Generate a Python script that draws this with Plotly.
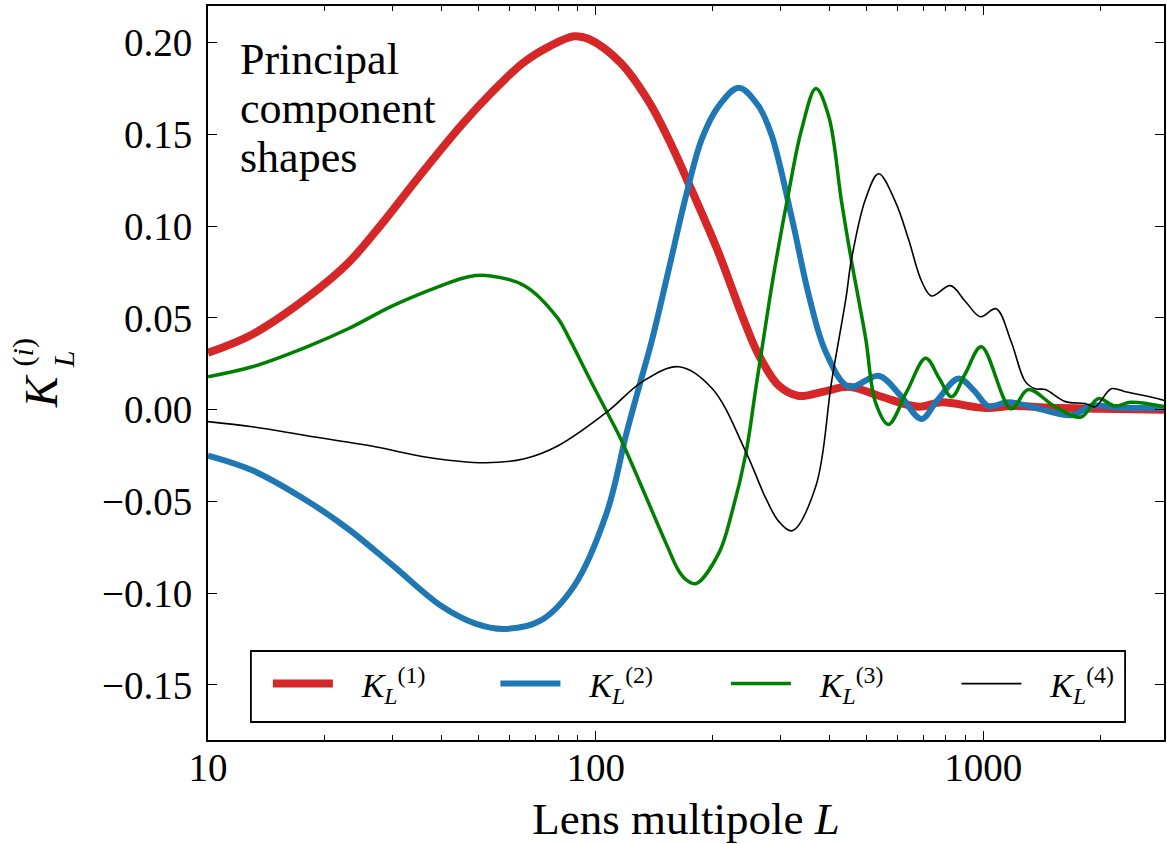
import plotly.graph_objects as go

# ---------------- data ----------------
L1 = [10, 13, 18, 23, 28, 35, 45, 54, 65, 76, 88, 96, 116, 137, 157, 174, 192, 208, 244,
      264, 297, 334, 390, 450, 537, 680, 780, 1000, 1200, 1500, 2000, 2940]
K1 = [0.031, 0.041, 0.061, 0.080, 0.101, 0.127, 0.155, 0.173, 0.189, 0.198, 0.2035, 0.202,
      0.189, 0.168, 0.144, 0.123, 0.1025, 0.085, 0.046, 0.0294, 0.013, 0.0075, 0.010,
      0.0125, 0.0076, 0.0016, 0.004, 0.001, 0.002, 0.001, 0.0005, 0.0]

L2 = [10, 13, 18, 23, 30, 40, 49, 58, 72, 88, 107, 120, 129, 140, 154.5, 171, 188, 208,
      234, 262, 284, 321, 355, 392, 450, 537, 610, 692, 760, 863, 950, 1030, 1160, 1330,
      1690, 1900, 2300, 2940]
K2 = [-0.025, -0.033, -0.0496, -0.065, -0.085, -0.107, -0.1166, -0.1195, -0.115, -0.096,
      -0.0556, -0.013, 0.0114, 0.0387, 0.0768, 0.1166, 0.1477, 0.1657, 0.1755, 0.166, 0.150,
      0.104, 0.062, 0.0316, 0.0125, 0.0185, 0.008, -0.005, 0.005, 0.017, 0.010, 0.002,
      0.004, 0.0016, -0.003, 0.002, 0.001, 0.001]

L3 = [10, 13, 18, 23, 30, 40, 47, 53, 65.5, 80, 85.5, 98, 108, 116, 129, 152, 164, 172,
      181.5, 208, 224.6, 244, 259, 271.6, 288, 315, 340, 370, 399, 431, 457, 497, 527, 569,
      635, 710, 770, 828, 900, 988, 1180, 1306, 1531, 1787, 1977, 2188, 2400, 2940]
K3 = [0.018, 0.0234, 0.0343, 0.0441, 0.0567, 0.0676, 0.0725, 0.073, 0.0676, 0.0496, 0.0387,
      0.014, -0.003, -0.0158, -0.038, -0.073, -0.088, -0.093, -0.0948, -0.078, -0.056,
      -0.024, 0.012, 0.040, 0.074, 0.119, 0.153, 0.175, 0.160, 0.113, 0.081, 0.039, 0.004,
      -0.008, 0.010, 0.028, 0.017, 0.007, 0.020, 0.0343, 0.0005, 0.011, 0.0016, -0.004,
      0.006, 0.002, 0.004, 0.0016]

L4 = [10, 13, 18, 27, 36, 52, 65.5, 80, 108, 132, 164, 200, 244, 275, 297, 321, 370,
      406, 442, 457, 497, 537, 594, 641, 693, 735, 822, 899, 982, 1079, 1180, 1283, 1360,
      1445, 1627, 1832, 1943, 2138, 2323, 2612, 2940]
K4 = [-0.0065, -0.0093, -0.0142, -0.0202, -0.0256, -0.0289, -0.0267, -0.0196,
      -0.0005, 0.0153, 0.0234, 0.0114, -0.023, -0.0485, -0.061, -0.066, -0.0414, 0.0153,
      0.0605, 0.082, 0.115, 0.1286, 0.113, 0.093, 0.070, 0.062, 0.0676, 0.059, 0.0507,
      0.055, 0.037, 0.0153, 0.0114, 0.011, 0.0044, 0.0033, 0.0016, 0.0114, 0.0098, 0.0076,
      0.005]

series_names = ["<i>K</i><sub><i>L</i></sub><sup>(1)</sup>",
                "<i>K</i><sub><i>L</i></sub><sup>(2)</sup>",
                "<i>K</i><sub><i>L</i></sub><sup>(3)</sup>",
                "<i>K</i><sub><i>L</i></sub><sup>(4)</sup>"]
series_colors = ["#d62728", "#1f77b4", "#008000", "#000000"]
series_widths = [8, 6, 3.5, 1.6]

x_tickvals = [10, 100, 1000]
x_ticktext = ["10", "100", "1000"]
x_minor = [20, 30, 40, 50, 60, 70, 80, 90, 200, 300, 400, 500, 600, 700, 800, 900, 2000, 3000]
y_tickvals = [-0.15, -0.10, -0.05, 0.00, 0.05, 0.10, 0.15, 0.20]
y_ticktext = ["\u22120.15", "\u22120.10", "\u22120.05", "0.00", "0.05", "0.10", "0.15", "0.20"]

FONT = "Liberation Serif"


def px2paper(px, py):
    return (px - 208) / 958.0, (740 - py) / 734.0


fig = go.Figure()
legend_ids = ["legend", "legend2", "legend3", "legend4"]
for Lx, Ky, nm, col, w, lg in zip([L1, L2, L3, L4], [K1, K2, K3, K4], series_names,
                                  series_colors, series_widths, legend_ids):
    fig.add_trace(go.Scatter(x=Lx, y=Ky, mode="lines", name="\u2002\u2009" + nm, legend=lg,
                             line=dict(color=col, width=w, shape="spline", smoothing=1.0)))

axis_common = dict(showline=True, linecolor="black", linewidth=1.8, mirror="allticks",
                   ticks="inside", tickcolor="black", tickwidth=1.2, showgrid=False,
                   zeroline=False, tickfont=dict(family=FONT, size=39, color="black"))

fig.update_xaxes(type="log", range=[1, 3.466], tickvals=x_tickvals, ticktext=x_ticktext,
                 ticklen=9, ticklabelstandoff=-8,
                 minor=dict(tickvals=x_minor, ticks="inside", ticklen=5, tickcolor="black",
                            tickwidth=1.0, showgrid=False),
                 title=dict(text="Lens multipole <i>L</i>", standoff=20,
                            font=dict(family=FONT, size=45, color="black")),
                 **axis_common)
fig.update_yaxes(range=[-0.18, 0.22], tickvals=y_tickvals, ticktext=y_ticktext,
                 ticklen=9, ticklabelstandoff=6, **axis_common)

# y-axis label built from pieces so sub/superscript stack
for txt, (px, py), sz in [("<i>K</i>", (41, 391), 46),
                          ("(<i>i</i>)", (23, 352), 30),
                          ("<i>L</i>", (63, 359), 30)]:
    xp, yp = px2paper(px, py)
    fig.add_annotation(text=txt, xref="paper", yref="paper", x=xp, y=yp, showarrow=False,
                       textangle=-90, xanchor="center", yanchor="middle",
                       font=dict(family=FONT, size=sz, color="black"))

# text block
for txt, py in [("Principal", 59), ("component", 108), ("shapes", 157)]:
    xp, yp = px2paper(238, py)
    fig.add_annotation(text=txt, xref="paper", yref="paper", x=xp, y=yp, showarrow=False,
                       xanchor="left", yanchor="middle",
                       font=dict(family=FONT, size=44, color="black"))

# legend frame
x0, y0 = px2paper(251, 722)
x1, y1 = px2paper(1127, 651)
fig.add_shape(type="rect", xref="paper", yref="paper", x0=x0, y0=y0, x1=x1, y1=y1,
              line=dict(color="black", width=1.8), fillcolor="white", layer="above")

legend_px = [268, 496, 727, 958]
legends = {}
for lg, px in zip(legend_ids, legend_px):
    lx, ly = px2paper(px, 655)
    legends[lg] = dict(orientation="h", x=lx, y=ly, xanchor="left", yanchor="top",
                       bgcolor="rgba(0,0,0,0)", borderwidth=0, itemwidth=60,
                       font=dict(family=FONT, size=34, color="black"))

fig.update_layout(
    width=1167, height=844,
    margin=dict(l=208, r=1, t=6, b=104),
    paper_bgcolor="white", plot_bgcolor="white",
    showlegend=True,
    **legends,
)

fig.write_html("out.html")
